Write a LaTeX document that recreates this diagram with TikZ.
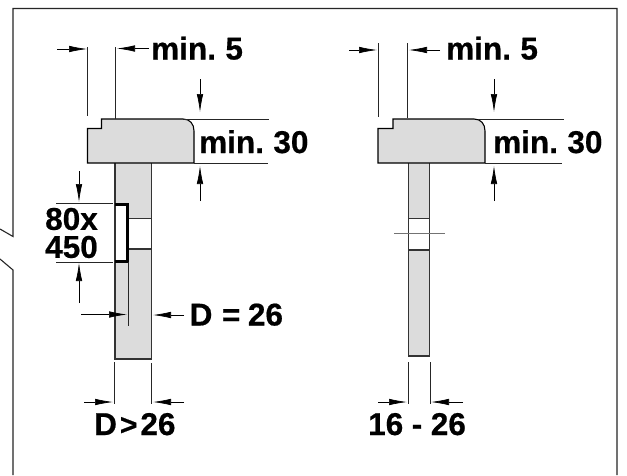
\documentclass[tikz,border=0pt]{standalone}
\usepackage{fontspec}
\setmainfont[WordSpace=0.75,BoldFeatures={FakeBold=0.6}]{Liberation Sans}
\usetikzlibrary{arrows.meta}
\tikzset{
  lbl/.style={anchor=base west,inner sep=0pt,font=\fontsize{31.5}{28}\selectfont\bfseries},
  wood/.style={draw=black,line width=1.1pt,fill=woodgray,line join=miter},
  panelline/.style={draw=black!80,line width=1.2pt},
  thin line/.style={draw=black!85,line width=0.8pt},
  dimarrow/.style={draw=black,line width=0.7pt,-{Latex[length=18pt,width=6.5pt]}},
  frameline/.style={draw=black!85,line width=1.1pt}
}
\definecolor{woodgray}{HTML}{DCDCDC}
\begin{document}
\begin{tikzpicture}[x=1pt,y=-1pt]
\useasboundingbox (0,0) rectangle (627,475);
\fill[white] (0,0) rectangle (627,475);
% frame
\draw[frameline] (0,229) -- (13,236.5) -- (13,8.5) -- (617,8.5) -- (617,475);
\draw[frameline] (0,259) -- (13,270) -- (13,475);
% left section
\fill[woodgray] (115,163) rectangle (151.5,218.3);
\fill[woodgray] (115,249) rectangle (151.5,359);
\draw[panelline] (115,163) -- (115,359) -- (151.5,359) -- (151.5,163);
\draw[panelline] (128,218.3) -- (151.5,218.3) (128,249) -- (151.5,249);
\fill[white] (115.5,204.5) rectangle (127,262);
\draw[panelline] (115,204) -- (115,262);
\draw[draw=black,line width=2.8pt] (114.5,204.3) -- (127.5,204.3) -- (127.5,261.7) -- (114.5,261.7);
\draw[thin line] (128.5,262) -- (128.5,325.7);
\draw[wood] (87.5,163) -- (87.5,128.5) -- (101.5,128.5) -- (101.5,119) -- (183,119) .. controls (190,119) and (194,124) .. (194,131) -- (194,163) -- cycle;
% right section
\fill[woodgray] (408.5,163) rectangle (429.7,218.3);
\fill[woodgray] (408.5,250) rectangle (429.7,356);
\draw[panelline] (408.5,163) -- (408.5,356) -- (429.7,356) -- (429.7,163);
\draw[panelline] (408.5,218.3) -- (429.7,218.3) (408.5,250) -- (429.7,250);
\draw[draw=black!55,line width=0.8pt] (394,233) -- (445,233);
\draw[wood] (378,163) -- (378,128.5) -- (393,128.5) -- (393,119) -- (474,119) .. controls (481,119) and (485,124) .. (485,131) -- (485,163) -- cycle;
% extension lines left
\draw[thin line] (87.3,47) -- (87.3,116);
\draw[thin line] (115.7,47) -- (115.7,119);
\draw[thin line] (183,119) -- (269,119);
\draw[thin line] (194,163) -- (268,163);
\draw[thin line] (56,203) -- (113,203);
\draw[thin line] (56,262) -- (113,262);
\draw[thin line] (114.3,362) -- (114.3,404);
\draw[thin line] (151.5,363) -- (151.5,404);
% extension lines right
\draw[thin line] (378,43) -- (378,117);
\draw[thin line] (407.5,43) -- (407.5,118);
\draw[thin line] (478,119) -- (564,119);
\draw[thin line] (485,163) -- (562,163);
\draw[thin line] (408.5,362) -- (408.5,404);
\draw[thin line] (430,362) -- (430,404);
% dimension arrows left
\draw[dimarrow] (57,49) -- (87,49);
\draw[dimarrow] (149,48.5) -- (117,48.5);
\draw[dimarrow] (200,79) -- (200,112);
\draw[dimarrow] (200,201) -- (200,166);
\draw[dimarrow] (79,171) -- (79,202);
\draw[dimarrow] (79,303) -- (79,263);
\draw[dimarrow] (81,314.5) -- (127,314.5);
\draw[dimarrow] (184,315) -- (153,315);
\draw[dimarrow] (84,402) -- (113,402);
\draw[dimarrow] (184,402) -- (153,402);
% dimension arrows right
\draw[dimarrow] (349,50) -- (377,50);
\draw[dimarrow] (440,50) -- (409,50);
\draw[dimarrow] (494,79) -- (494,112);
\draw[dimarrow] (494,201) -- (494,166);
\draw[dimarrow] (378,402) -- (407,402);
\draw[dimarrow] (463,402) -- (431,402);
% labels
\node[lbl] (a1) at (151,59.5) {min. 5};
\node[lbl] (a2) at (199,153) {min. 30};
\node[lbl,anchor=center,align=center] (a3) at (71.5,233) {80x\\450};
\node[lbl] (a5) at (189.5,325.5) {D\kern3pt{} = \kern1pt{}26};
\node[lbl] (a6) at (94,435) {D\kern3pt{}\scalebox{0.95}{>}\kern3pt{}26};
\node[lbl] (b1) at (446,59.5) {min. 5};
\node[lbl] (b2) at (493,153) {min. 30};
\node[lbl] (b3) at (368,435) {16\kern2pt{} - \kern2pt{}26};
\end{tikzpicture}
\end{document}
